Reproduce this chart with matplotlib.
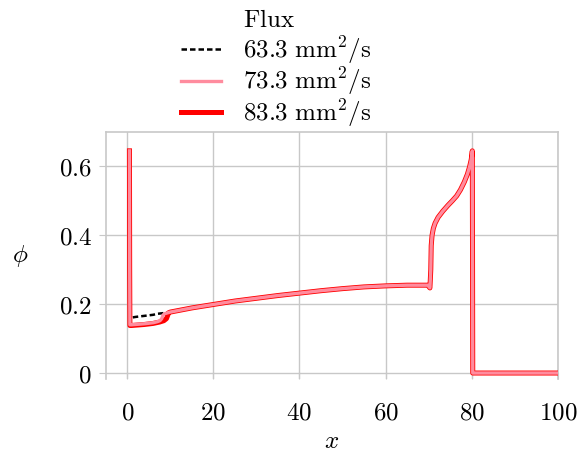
import numpy as np
import matplotlib
matplotlib.use('Agg')
import matplotlib.pyplot as plt

# mathtext in computer modern so the labels look like LaTeX
plt.rcParams['mathtext.fontset'] = 'cm'
plt.rcParams['font.family'] = 'serif'
plt.rcParams['font.serif'] = ['DejaVu Serif']

# spike at the inlet, shared by all three fluxes
x_inlet = [0.5, 0.55]
phi_inlet = [0.645, 0.30]

# start of the profile, different for each flux
x_633 = [0.6, 1.0, 2.0, 4.0, 6.0, 7.0, 8.5]
phi_633 = [0.160, 0.161, 0.163, 0.166, 0.169, 0.172, 0.174]

x_733 = [0.6, 1.0, 2.0, 4.0, 6.0, 7.0, 7.6, 8.0, 8.3, 8.6]
phi_733 = [0.140, 0.140, 0.141, 0.143, 0.146, 0.149, 0.152, 0.158, 0.168, 0.172]

x_833 = [0.6, 1.0, 2.0, 4.0, 6.0, 7.5, 8.5, 9.1, 9.4, 9.6]
phi_833 = [0.138, 0.138, 0.139, 0.141, 0.144, 0.148, 0.152, 0.158, 0.168, 0.175]

# common part of the profile up to the outlet
x_common = [10, 15, 20, 25, 30, 35, 40, 45, 50, 55, 60, 65, 69.8, 70.3,
            70.5, 70.6, 70.8, 71.1, 71.5, 72.2, 73.3, 74.5, 75.5, 76.5,
            77.4, 78.3, 79.0, 79.5, 79.9, 80.15, 80.25, 100]
phi_common = [0.177, 0.189, 0.199, 0.209, 0.217, 0.225, 0.232, 0.239, 0.245,
              0.250, 0.253, 0.255, 0.255, 0.247, 0.30, 0.37, 0.40, 0.42,
              0.435, 0.452, 0.470, 0.487, 0.500, 0.514, 0.532, 0.555, 0.577,
              0.598, 0.620, 0.645, 0.0, 0.0]

fluxes = [r'$63.3\ \mathrm{mm}^2/\mathrm{s}$', r'$73.3\ \mathrm{mm}^2/\mathrm{s}$',
          r'$83.3\ \mathrm{mm}^2/\mathrm{s}$']

fig = plt.figure(figsize=(5.78, 4.58), dpi=100)
ax = fig.add_axes([0.183, 0.172, 0.782, 0.54])

def profile(xs, ps):
    return (np.concatenate([x_inlet, xs, x_common]),
            np.concatenate([phi_inlet, ps, phi_common]))

x1, p1 = profile(x_633, phi_633)
x2, p2 = profile(x_733, phi_733)
x3, p3 = profile(x_833, phi_833)

# black under the others, pink on top of the wider red
ax.plot(x1, p1, color='black', ls=(0, (2.2, 1.2)), lw=1.8, zorder=2, label=fluxes[0])
ax.plot(x2, p2, color='#ff8c9e', lw=2.4, zorder=4, label=fluxes[1])
ax.plot(x3, p3, color='#ff0000', lw=3.6, zorder=3, label=fluxes[2])

ax.set_xlim(-5, 100)
ax.set_ylim(-0.018, 0.7)
ax.set_xticks([0, 20, 40, 60, 80, 100])
ax.set_xticklabels([f'${v}$' for v in [0, 20, 40, 60, 80, 100]])
ax.set_yticks([0, 0.2, 0.4, 0.6])
ax.set_yticklabels(['$0$', '$0.2$', '$0.4$', '$0.6$'])
ax.grid(True, color='#c8c8c8', lw=1.0)
ax.set_axisbelow(True)

for side in ['left', 'right', 'top']:
    ax.spines[side].set_color('#c8c8c8')
    ax.spines[side].set_linewidth(1.2)
ax.spines['bottom'].set_visible(False)
ax.tick_params(axis='x', direction='in', length=5, color='#c8c8c8',
               labelsize=18, pad=16)
ax.tick_params(axis='y', direction='out', length=5, color='#c8c8c8',
               labelsize=18, pad=5)

ax.set_xlabel('$x$', fontsize=18, labelpad=4)
ax.set_ylabel(r'$\phi$', fontsize=18, rotation=0, labelpad=28, va='center')

fig.text(0.465, 0.955, r'$\mathrm{Flux}$', fontsize=18, ha='center', va='center')
leg = fig.legend(loc='upper center', bbox_to_anchor=(0.478, 0.953), frameon=False,
                 fontsize=18, handlelength=1.6, handletextpad=0.9,
                 labelspacing=0.0, borderpad=0.0)

fig.savefig('out.png', dpi=100)
